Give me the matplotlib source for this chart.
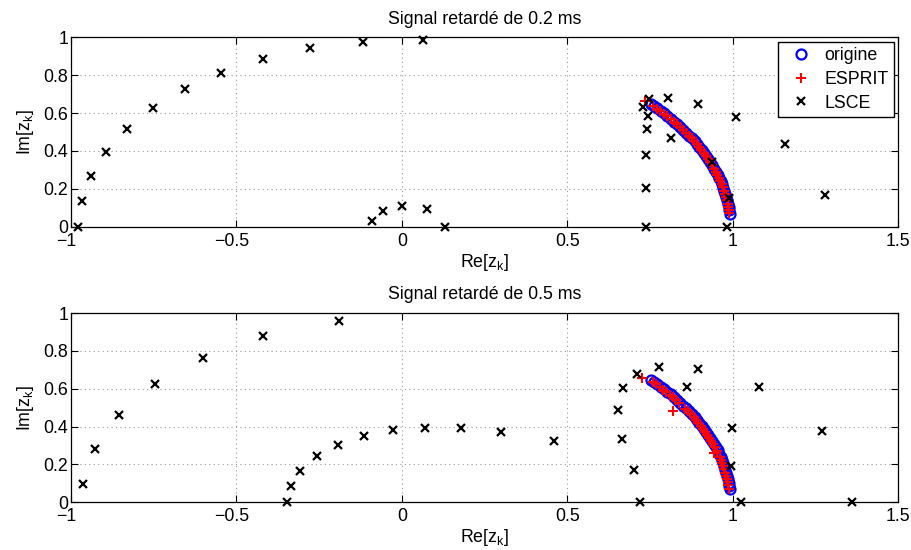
import numpy as np
import matplotlib
matplotlib.use('Agg')
import matplotlib.pyplot as plt
from matplotlib.transforms import ScaledTranslation

# poles "origine" (same true poles in both panels)
orig_re = [0.991, 0.989, 0.988, 0.986, 0.983, 0.981, 0.978, 0.975, 0.971, 0.968,
           0.964, 0.959, 0.955, 0.950, 0.944, 0.939, 0.933, 0.927, 0.921, 0.914,
           0.907, 0.900, 0.893, 0.885, 0.877, 0.869, 0.860, 0.851, 0.842, 0.833,
           0.823, 0.814, 0.803, 0.793, 0.783, 0.772, 0.761, 0.752]
orig_im = [0.069, 0.087, 0.104, 0.121, 0.138, 0.155, 0.172, 0.190, 0.206, 0.223,
           0.240, 0.257, 0.274, 0.290, 0.307, 0.323, 0.340, 0.356, 0.372, 0.388,
           0.404, 0.420, 0.435, 0.451, 0.466, 0.481, 0.497, 0.511, 0.526, 0.541,
           0.555, 0.570, 0.584, 0.598, 0.611, 0.625, 0.638, 0.648]

# ESPRIT, delay 0.2 ms
esp1_re = [0.990, 0.988, 0.987, 0.985, 0.982, 0.980, 0.977, 0.974, 0.970, 0.967,
           0.963, 0.958, 0.954, 0.949, 0.943, 0.938, 0.932, 0.926, 0.920, 0.913,
           0.906, 0.899, 0.892, 0.884, 0.876, 0.868, 0.859, 0.850, 0.841, 0.832,
           0.822, 0.813, 0.802, 0.792, 0.782, 0.771, 0.760, 0.735]
esp1_im = [0.070, 0.088, 0.105, 0.122, 0.139, 0.156, 0.173, 0.190, 0.207, 0.224,
           0.241, 0.257, 0.274, 0.291, 0.307, 0.324, 0.340, 0.356, 0.372, 0.388,
           0.404, 0.420, 0.435, 0.451, 0.466, 0.481, 0.496, 0.511, 0.526, 0.540,
           0.555, 0.569, 0.583, 0.597, 0.611, 0.624, 0.637, 0.666]

# ESPRIT, delay 0.5 ms
esp2_re = [0.988, 0.986, 0.985, 0.983, 0.980, 0.978, 0.975, 0.972, 0.968, 0.965,
           0.961, 0.945, 0.952, 0.947, 0.941, 0.936, 0.930, 0.924, 0.918, 0.911,
           0.904, 0.897, 0.890, 0.882, 0.874, 0.866, 0.857, 0.819, 0.839, 0.830,
           0.820, 0.811, 0.800, 0.790, 0.780, 0.769, 0.758, 0.725]
esp2_im = [0.072, 0.089, 0.106, 0.123, 0.140, 0.157, 0.174, 0.190, 0.207, 0.224,
           0.241, 0.259, 0.273, 0.290, 0.306, 0.323, 0.339, 0.355, 0.371, 0.387,
           0.403, 0.419, 0.434, 0.450, 0.465, 0.480, 0.495, 0.482, 0.525, 0.539,
           0.554, 0.568, 0.582, 0.596, 0.610, 0.623, 0.636, 0.655]

# LSCE, delay 0.2 ms
lsce1_re = [-0.978, -0.968, -0.940, -0.895, -0.832, -0.752, -0.655, -0.547, -0.419,
            -0.278, -0.118, 0.063, -0.089, -0.058, 0.001, 0.077, 0.131,
            0.737, 0.737, 0.737, 0.740, 0.743, 0.730, 0.748, 0.806, 0.813, 0.896,
            0.937, 0.990, 0.982, 1.010, 1.159, 1.280]
lsce1_im = [0.000, 0.136, 0.268, 0.395, 0.514, 0.627, 0.727, 0.814, 0.887,
            0.942, 0.976, 0.985, 0.032, 0.081, 0.108, 0.093, 0.000,
            0.000, 0.203, 0.379, 0.516, 0.585, 0.634, 0.673, 0.678, 0.470, 0.650,
            0.343, 0.152, 0.000, 0.578, 0.437, 0.169]

# LSCE, delay 0.5 ms
lsce2_re = [-0.965, -0.927, -0.855, -0.747, -0.601, -0.419, -0.190,
            -0.348, -0.336, -0.307, -0.256, -0.193, -0.115, -0.027, 0.069, 0.178,
            0.300, 0.461, 0.721, 0.703, 0.667, 0.653, 0.670, 0.711, 0.777, 0.896,
            0.861, 1.080, 0.997, 0.994, 1.025, 1.271, 1.360]
lsce2_im = [0.095, 0.282, 0.460, 0.623, 0.762, 0.877, 0.956,
            0.000, 0.088, 0.167, 0.245, 0.303, 0.349, 0.380, 0.394, 0.391,
            0.371, 0.326, 0.000, 0.171, 0.335, 0.486, 0.602, 0.678, 0.713, 0.702,
            0.607, 0.611, 0.392, 0.192, 0.000, 0.377, 0.000]

titles = ['Signal retardé de 0.2 ms', 'Signal retardé de 0.5 ms']
xticks = [-1, -0.5, 0, 0.5, 1, 1.5]
xticklabels = ['\u22121', '\u22120.5', '0', '0.5', '1', '1.5']
yticks = [0, 0.2, 0.4, 0.6, 0.8, 1]
yticklabels = ['0', '0.2', '0.4', '0.6', '0.8', '1']

FONT = 12.8

def main():
    plt.rcParams['font.family'] = ['Liberation Sans', 'DejaVu Sans']
    plt.rcParams['mathtext.fontset'] = 'custom'
    plt.rcParams['mathtext.rm'] = 'Liberation Sans'
    plt.rcParams['mathtext.it'] = 'Liberation Sans'

    fig = plt.figure(figsize=(9.11, 5.5), dpi=100)
    ax1 = fig.add_axes([0.0779, 0.588, 0.9078, 0.344])
    ax2 = fig.add_axes([0.0779, 0.0867, 0.9078, 0.344])

    data = [(esp1_re, esp1_im, lsce1_re, lsce1_im), (esp2_re, esp2_im, lsce2_re, lsce2_im)]
    for ax, ttl, (er, ei, lr, li) in zip([ax1, ax2], titles, data):
        ax.plot(orig_re, orig_im, 'o', color='none', mec='#0000ff', mew=1.6, ms=7.2,
                label='origine', clip_on=False, zorder=3)
        ax.plot(er, ei, '+', color='#ff0000', mew=1.5, ms=7,
                label='ESPRIT', clip_on=False, zorder=4)
        ax.plot(lr, li, 'x', color='k', mew=1.6, ms=6,
                label='LSCE', clip_on=False, zorder=5)
        ax.set_xlim(-1, 1.5)
        ax.set_ylim(0, 1)
        ax.set_xticks(xticks)
        ax.set_yticks(yticks)
        ax.set_xticklabels(xticklabels)
        ax.set_yticklabels(yticklabels)
        ax.tick_params(direction='in', top=True, right=True, length=5, width=0.8,
                       labelsize=FONT)
        ax.tick_params(axis='x', pad=4.3)
        ax.tick_params(axis='y', pad=2)
        # matlab centres the number and lets the minus sign hang on the left
        for lab in ax.get_xticklabels():
            if lab.get_text().startswith('\u2212'):
                lab.set_transform(lab.get_transform() +
                                  ScaledTranslation(-0.05, 0, fig.dpi_scale_trans))
        ax.grid(True, linestyle=(0, (1, 3)), color='#999999', linewidth=0.8)
        for sp in ax.spines.values():
            sp.set_linewidth(0.9)
        ax.set_xlabel(r'Re[z$\mathregular{_k}$]', fontsize=FONT, labelpad=1.5)
        ax.set_ylabel(r'Im[z$\mathregular{_k}$]', fontsize=FONT, labelpad=5)
        ax.set_title(ttl, fontsize=FONT, pad=10)

    leg = ax1.legend(loc='upper right', fontsize=FONT, frameon=True, fancybox=False,
                     edgecolor='k', framealpha=1, handlelength=2.0, handletextpad=0.3,
                     borderaxespad=0.25, labelspacing=0.38, borderpad=0.3)
    leg.get_frame().set_linewidth(1.0)

    fig.savefig('out.png', dpi=100)

if __name__ == "__main__":
    main()
